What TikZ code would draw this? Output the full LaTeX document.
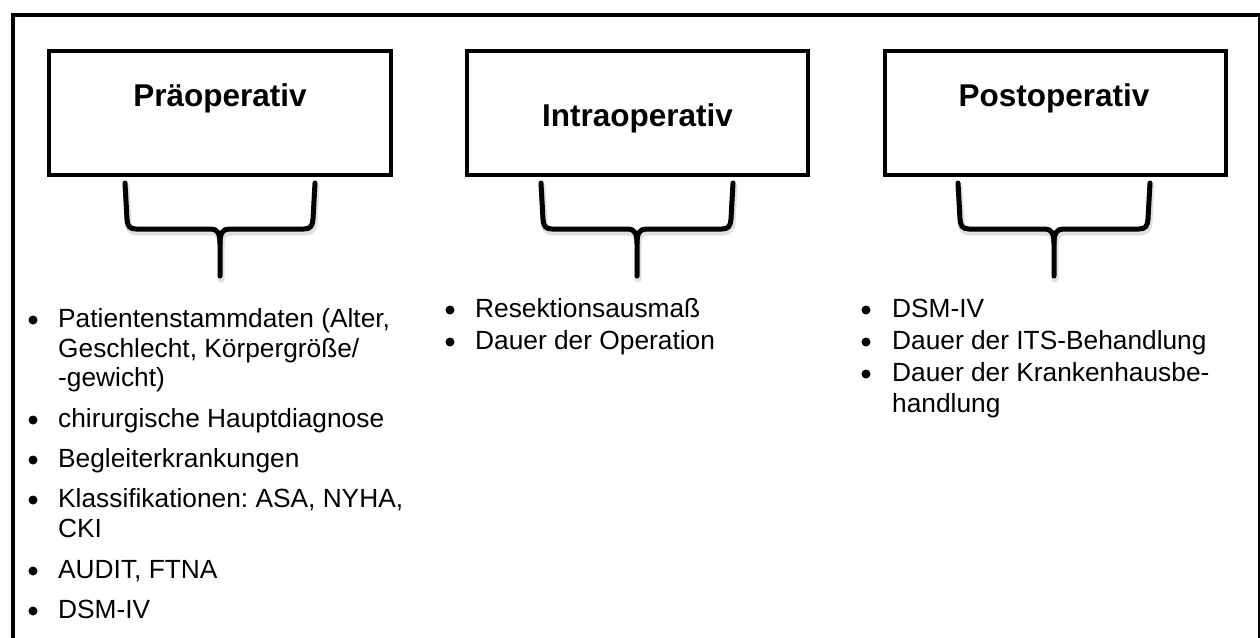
\documentclass[tikz,border=0pt]{standalone}
\usepackage{fontspec}
\setmainfont{Liberation Sans}
\frenchspacing
\newcommand\mybrace[3][]{%
  \draw[#1] (#2-#3,183) -- (#2-#3+2,219) .. controls (#2-#3+2.5,226) and (#2-#3+4.5,229) .. (#2-#3+11,229)
    -- (#2-9,229) .. controls (#2-3,229) and (#2,233) .. (#2,243) -- (#2,276);
  \draw[#1] (#2+#3,183) -- (#2+#3-2,219) .. controls (#2+#3-2.5,226) and (#2+#3-4.5,229) .. (#2+#3-11,229)
    -- (#2+9,229) .. controls (#2+3,229) and (#2,233) .. (#2,243);
}
\begin{document}
\begin{tikzpicture}[x=1pt,y=-1pt,
  box/.style={draw, line width=4pt, minimum height=124pt, inner sep=0pt, outer sep=0pt, anchor=north west},
  ttl/.style={font=\fontsize{31.5}{36}\selectfont\bfseries, anchor=base, inner sep=0pt},
  itm/.style={font=\fontsize{26.3}{30}\selectfont, anchor=base west, inner sep=0pt},
  dot/.style={circle, fill, minimum size=9pt, inner sep=0pt},
  br/.style={line width=5pt, line cap=round, line join=round},
  brshadow/.style={line width=7pt, line cap=round, line join=round, black!12, xshift=1pt, yshift=-3pt}]
\useasboundingbox (0,0) rectangle (1260,637);
\begin{scope}
  \clip (0,0) rectangle (1260,637);
  \draw[line width=4pt] (12.5,15) rectangle (1259.8,680);
\end{scope}
% boxes
\node[box, minimum width=341.8pt] (b1) at (48.7,50.5) {};
\node[box, minimum width=341pt] (b2) at (467,50.5) {};
\node[box, minimum width=341.5pt] (b3) at (884.5,50.5) {};
% titles
\node[ttl] (t1) at (220,106) {Präoperativ};
\node[ttl] (t2) at (637.5,126) {Intraoperativ};
\node[ttl] (t3) at (1054,106) {Postoperativ};
% braces
\mybrace[brshadow]{220}{95}
\mybrace[brshadow]{637}{96}
\mybrace[brshadow]{1054}{96}
\mybrace[br]{220}{95}
\mybrace[br]{637}{96}
\mybrace[br]{1054}{96}
% list 1
\node[itm] (p1) at (58,327) {Patientenstammdaten (Alter,};
\node[itm] (p2) at (58,357) {Geschlecht, Körpergröße/};
\node[itm] (p3) at (58,386) {-gewicht)};
\node[itm] (p4) at (58,427) {chirurgische Hauptdiagnose};
\node[itm] (p5) at (58,467) {Begleiterkrankungen};
\node[itm] (p6) at (58,507) {Klassifikationen: ASA, NYHA,};
\node[itm] (p7) at (58,537) {CKI};
\node[itm] (p8) at (58,578) {AUDIT, FTNA};
\node[itm] (p9) at (58,618) {DSM-IV};
\foreach \y/\n in {327/1,427/4,467/5,507/6,578/8,618/9}
  \node[dot] (pd\n) at (33,\y-7) {};
% list 2
\node[itm] (i1) at (475,317) {Resektionsausmaß};
\node[itm] (i2) at (475,349) {Dauer der Operation};
\foreach \y/\n in {317/1,349/2}
  \node[dot] (id\n) at (450,\y-7) {};
% list 3
\node[itm] (o1) at (892,317) {DSM-IV};
\node[itm] (o2) at (892,349) {Dauer der ITS-Behandlung};
\node[itm] (o3) at (892,381) {Dauer der Krankenhausbe-};
\node[itm] (o4) at (892,412) {handlung};
\foreach \y/\n in {317/1,349/2,381/3}
  \node[dot] (od\n) at (866,\y-7) {};
\end{tikzpicture}
\end{document}
